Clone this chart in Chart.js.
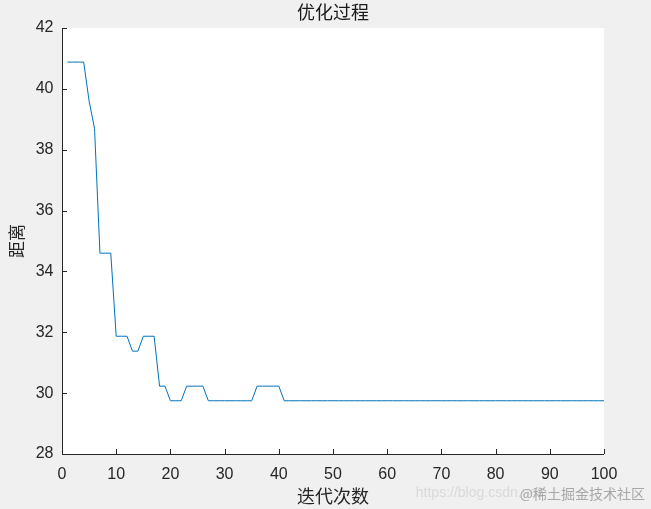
<!DOCTYPE html>
<html>
<head>
<meta charset="utf-8">
<script src="https://cdn.jsdelivr.net/npm/chart.js@4/dist/chart.umd.min.js"></script>
<style>
  html, body { margin: 0; padding: 0; background: #f0f0f0; }
  canvas { display: block; }
</style>
</head>
<body>
<canvas id="chart" width="651" height="509"></canvas>
<script>
// iteration numbers 1..100 and the best distance found at each one
const iterations = Array.from({ length: 100 }, (_, i) => i + 1);
const distances = [
    40.88, 40.88, 40.88, 40.88, 39.6, 38.7, 34.6, 34.6, 34.6, 31.87,
    31.87, 31.87, 31.38, 31.38, 31.87, 31.87, 31.87, 30.23, 30.23, 29.75,
    29.75, 29.75, 30.23, 30.23, 30.23, 30.23, 29.75, 29.75, 29.75, 29.75,
    29.75, 29.75, 29.75, 29.75, 29.75, 30.23, 30.23, 30.23, 30.23, 30.23,
    29.75, 29.75, 29.75, 29.75, 29.75, 29.75, 29.75, 29.75, 29.75, 29.75,
    29.75, 29.75, 29.75, 29.75, 29.75, 29.75, 29.75, 29.75, 29.75, 29.75,
    29.75, 29.75, 29.75, 29.75, 29.75, 29.75, 29.75, 29.75, 29.75, 29.75,
    29.75, 29.75, 29.75, 29.75, 29.75, 29.75, 29.75, 29.75, 29.75, 29.75,
    29.75, 29.75, 29.75, 29.75, 29.75, 29.75, 29.75, 29.75, 29.75, 29.75,
    29.75, 29.75, 29.75, 29.75, 29.75, 29.75, 29.75, 29.75, 29.75, 29.75
];
const xTicks = [0, 10, 20, 30, 40, 50, 60, 70, 80, 90, 100];
const yTicks = [28, 30, 32, 34, 36, 38, 40, 42];

const titleText = '优化过程';
const xLabel = '迭代次数';
const yLabel = '距离';

const axisColor = '#262626';
const cjkFont = '"Noto Sans CJK SC", "Noto Sans", sans-serif';
const numFont = '"Liberation Sans", Arial, sans-serif';

// white plot area on grey figure, matlab style
const plotBackground = {
    id: 'plotBackground',
    beforeDraw(chart) {
        const { ctx, chartArea } = chart;
        ctx.save();
        ctx.fillStyle = '#f0f0f0';
        ctx.fillRect(0, 0, chart.width, chart.height);
        ctx.fillStyle = '#ffffff';
        ctx.fillRect(chartArea.left, chartArea.top,
            chartArea.right - chartArea.left, chartArea.bottom - chartArea.top);
        ctx.restore();
    }
};

// ticks pointing into the axes, plus the left/bottom axis lines
const inwardTicks = {
    id: 'inwardTicks',
    afterDatasetsDraw(chart) {
        const { ctx, chartArea, scales } = chart;
        const len = 5;
        ctx.save();
        ctx.strokeStyle = axisColor;
        ctx.lineWidth = 1;
        ctx.beginPath();
        xTicks.forEach(v => {
            const px = Math.round(scales.x.getPixelForValue(v)) + 0.5;
            ctx.moveTo(px, chartArea.bottom);
            ctx.lineTo(px, chartArea.bottom - len);
        });
        yTicks.forEach(v => {
            const py = Math.round(scales.y.getPixelForValue(v)) + 0.5;
            ctx.moveTo(chartArea.left, py);
            ctx.lineTo(chartArea.left + len, py);
        });
        ctx.stroke();
        ctx.beginPath();
        ctx.moveTo(chartArea.left + 0.5, chartArea.top);
        ctx.lineTo(chartArea.left + 0.5, chartArea.bottom + 0.5);
        ctx.lineTo(chartArea.right, chartArea.bottom + 0.5);
        ctx.stroke();
        ctx.restore();
    }
};

// faint watermark in the bottom right corner
const watermark = {
    id: 'watermark',
    afterDraw(chart) {
        const { ctx } = chart;
        ctx.save();
        ctx.textBaseline = 'middle';
        ctx.textAlign = 'right';
        ctx.font = '14px ' + numFont;
        ctx.fillStyle = 'rgba(215,215,215,0.9)';
        ctx.fillText('https://blog.csdn.net/', 545, 493);
        ctx.font = '14px ' + cjkFont;
        ctx.fillStyle = 'rgba(160,160,160,0.9)';
        ctx.fillText('@稀土掘金技术社区', 645, 494);
        ctx.restore();
    }
};

new Chart(document.getElementById('chart'), {
    type: 'line',
    data: {
        datasets: [{
            data: iterations.map((x, i) => ({ x, y: distances[i] })),
            borderColor: '#0072BD',
            borderWidth: 1,
            pointRadius: 0,
            tension: 0,
            fill: false
        }]
    },
    options: {
        responsive: false,
        animation: false,
        devicePixelRatio: 1,
        layout: { padding: { left: 0, right: 47, top: 0, bottom: 0 } },
        plugins: {
            legend: { display: false },
            tooltip: { enabled: false },
            title: {
                display: true,
                text: titleText,
                fullSize: false,
                color: '#1a1a1a',
                font: { family: cjkFont, size: 18, weight: 'normal', lineHeight: 1.2 },
                padding: { top: 1.4, bottom: 5 }
            }
        },
        scales: {
            x: {
                type: 'linear',
                min: 0,
                max: 100,
                afterFit(scale) { scale.height = 55; },
                afterBuildTicks(scale) { scale.ticks = xTicks.map(value => ({ value })); },
                grid: { display: true, drawOnChartArea: false, drawTicks: false },
                border: { display: false },
                ticks: {
                    color: axisColor,
                    padding: 11,
                    maxRotation: 0,
                    autoSkip: false,
                    font: { family: numFont, size: 16 }
                },
                title: {
                    display: true,
                    text: xLabel,
                    color: axisColor,
                    font: { family: cjkFont, size: 18, lineHeight: 1.2 },
                    padding: { top: 0, bottom: 2.2 }
                }
            },
            y: {
                type: 'linear',
                min: 28,
                max: 42,
                afterFit(scale) { scale.width = 62; },
                afterBuildTicks(scale) { scale.ticks = yTicks.map(value => ({ value })); },
                grid: { display: true, drawOnChartArea: false, drawTicks: false },
                border: { display: false },
                ticks: {
                    color: axisColor,
                    padding: 8.5,
                    autoSkip: false,
                    font: { family: numFont, size: 16 }
                },
                title: {
                    display: true,
                    text: yLabel,
                    color: axisColor,
                    font: { family: cjkFont, size: 17, lineHeight: 1.2 },
                    padding: { top: 6, bottom: 0 }
                }
            }
        }
    },
    plugins: [plotBackground, inwardTicks, watermark]
});
</script>
</body>
</html>
